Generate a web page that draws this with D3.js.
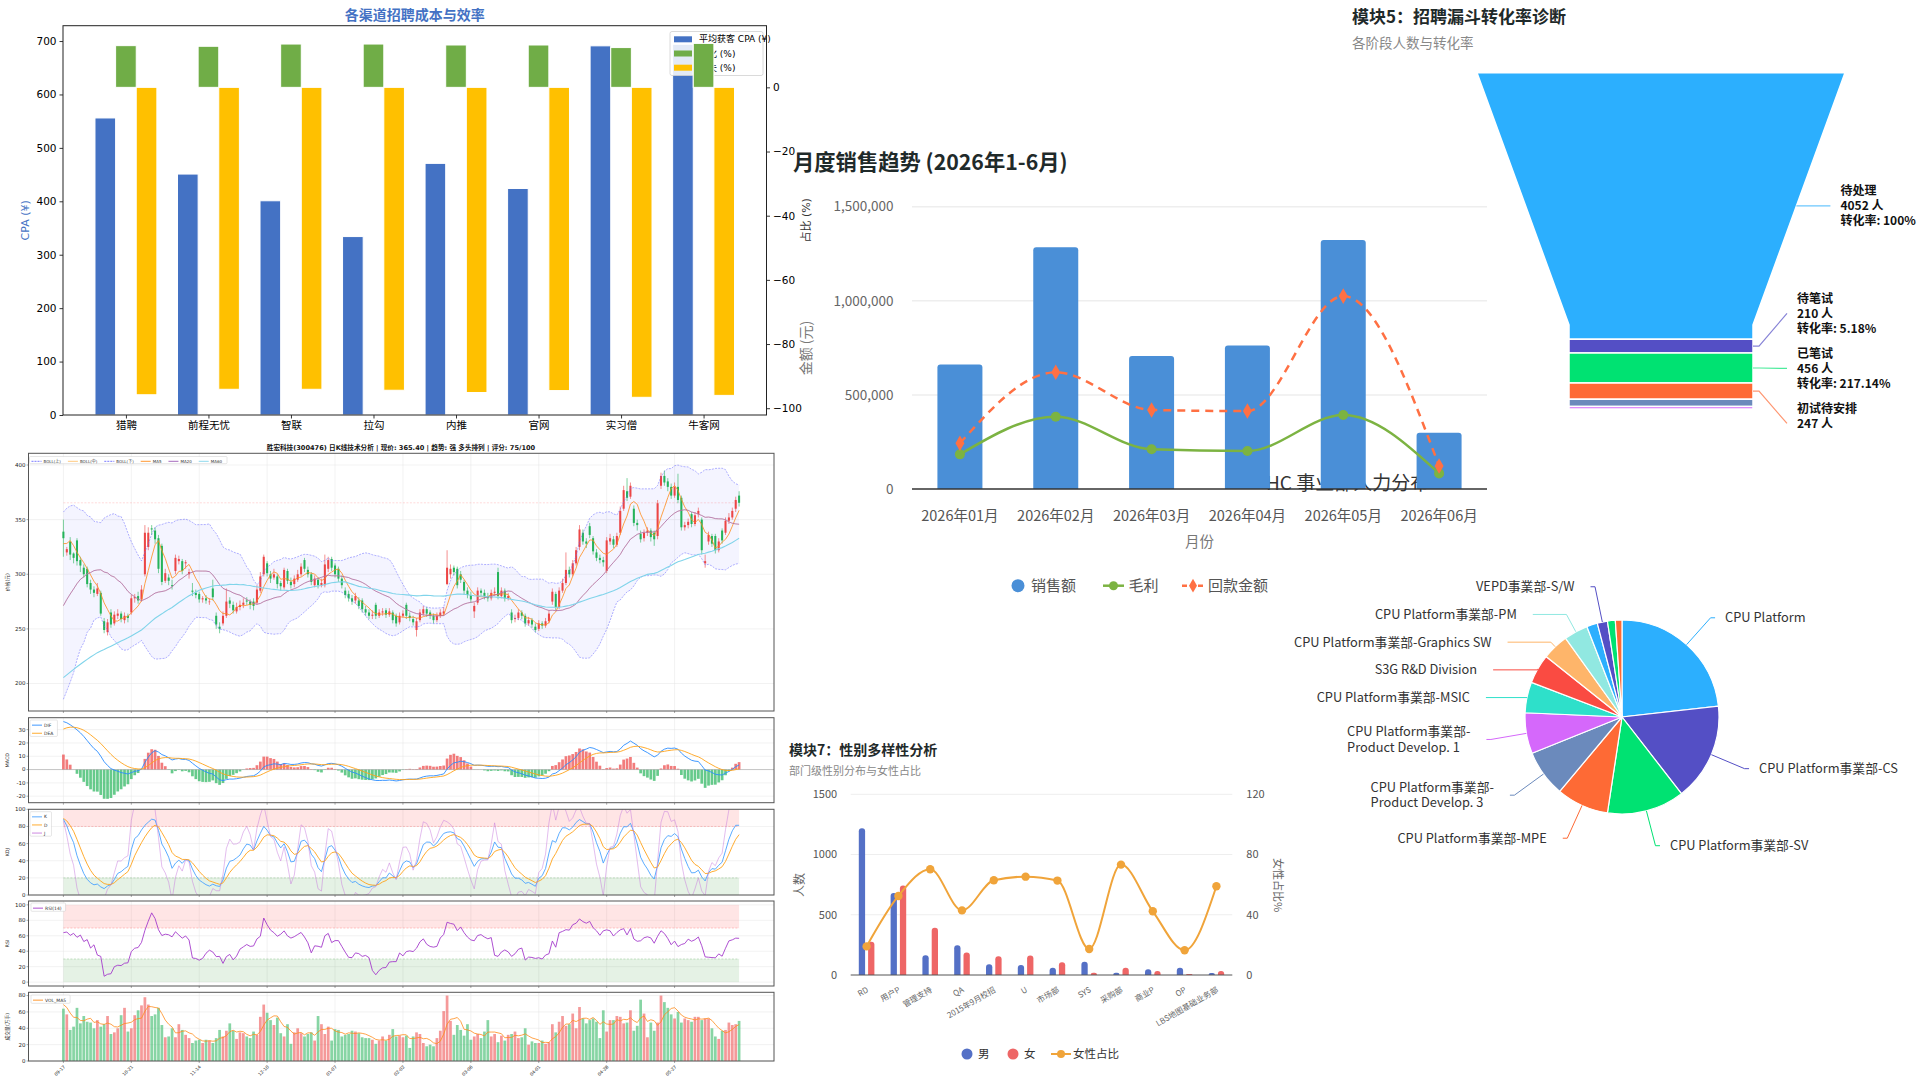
<!DOCTYPE html>
<html>
<head>
    <meta charset="utf-8" />
    <title>招聘与经营数据看板</title>
    <style>
        body { margin: 0; background: #fff; }
        svg { display: block; }
    </style>
</head>
<body>
    <svg id="board" width="1920" height="1080"></svg>
    <script src="https://cdn.jsdelivr.net/npm/d3@7/dist/d3.min.js"></script>
    <script>
        // ---------- channel CPA (matplotlib style, top left) ----------
        var cpaChannels = ["猎聘", "前程无忧", "智联", "拉勾", "内推", "官网", "实习僧", "牛客网"];
        var cpaValues = [556, 451, 401, 334, 471, 424, 691, 694];
        var convRates = [13.0, 12.8, 13.5, 13.5, 13.2, 13.2, 12.4, 13.7];
        var lossRates = [-95.8, -94.1, -94.1, -94.4, -95.1, -94.5, -96.6, -96.0];
        var cpaLegend = ["平均获客 CPA (¥)", "转化 (%)", "流失 (%)"];

        // ---------- K line (300476) ----------
        var kTickDates = ["09-17", "10-21", "11-14", "12-10", "01-07", "02-02", "03-06", "04-01", "04-28", "05-27"];
        var preClose = [170, 166, 163, 168, 172, 165, 160, 158, 162, 166, 170, 168, 164, 167, 171, 169, 165, 168, 172, 175,
            173, 170, 174, 178, 176, 172, 175, 180, 178, 174, 177, 181, 179, 176, 180, 184, 182, 186, 180, 182,
            210, 218, 222, 215, 230, 252, 238, 262, 248, 275, 260, 290, 272, 305, 288, 322, 305, 338, 342];
        var preVol = [75, 72, 68, 66];
        var kOpen = [339, 320, 330, 319, 331, 313, 306, 305, 292, 286, 282, 283, 257, 247, 265, 255, 262, 264, 258, 262,
            265, 278, 280, 277, 300, 325, 342, 340, 333, 326, 294, 297, 290, 303, 312, 312, 310, 300, 285, 283,
            282, 277, 278, 275, 287, 262, 252, 255, 262, 276, 272, 266, 270, 272, 276, 275, 275, 274, 285, 300,
            310, 300, 297, 298, 292, 288, 303, 293, 291, 295, 300, 313, 304, 300, 290, 295, 290, 290, 305, 314,
            308, 305, 296, 285, 282, 278, 276, 276, 276, 268, 265, 262, 272, 262, 265, 267, 263, 265, 262, 256,
            262, 272, 262, 259, 249, 258, 264, 268, 265, 262, 258, 262, 264, 291, 300, 306, 305, 300, 293, 285,
            281, 266, 274, 285, 283, 280, 278, 283, 302, 280, 285, 278, 265, 259, 260, 265, 262, 255, 258, 252,
            250, 255, 253, 257, 275, 282, 270, 285, 292, 304, 300, 310, 325, 338, 330, 344, 333, 320, 315, 313,
            303, 330, 332, 327, 338, 360, 376, 371, 360, 347, 337, 333, 338, 340, 338, 335, 381, 390, 385, 380,
            372, 380, 370, 343, 345, 355, 346, 355, 350, 310, 330, 335, 335, 322, 340, 338, 349, 352, 360, 372];
        var kClose = [333, 323, 318, 315, 312, 308, 300, 291, 286, 283, 287, 264, 249, 256, 254, 263, 264, 259, 262, 260,
            278, 279, 276, 286, 338, 338, 341, 332, 305, 293, 301, 294, 289, 315, 314, 303, 311, 302, 284, 281,
            277, 278, 276, 275, 279, 254, 250, 262, 275, 273, 267, 270, 272, 274, 275, 272, 271, 286, 298, 316,
            301, 296, 300, 291, 289, 304, 294, 290, 296, 300, 307, 305, 300, 293, 296, 290, 292, 309, 313, 306,
            300, 296, 290, 281, 278, 275, 280, 271, 268, 265, 262, 263, 262, 265, 266, 263, 266, 258, 255, 262,
            264, 262, 260, 256, 257, 265, 268, 264, 262, 258, 262, 265, 266, 306, 305, 302, 290, 295, 285, 281,
            277, 271, 285, 283, 280, 278, 283, 284, 280, 285, 278, 280, 258, 260, 265, 262, 255, 258, 254, 249,
            255, 253, 257, 264, 284, 270, 285, 292, 304, 300, 310, 322, 341, 330, 328, 336, 321, 315, 313, 311,
            331, 333, 327, 335, 358, 377, 370, 381, 347, 345, 332, 338, 340, 334, 332, 365, 390, 384, 380, 372,
            380, 368, 343, 345, 348, 346, 354, 358, 322, 312, 336, 328, 322, 330, 331, 349, 352, 358, 368, 365.4];
        var kHigh = [350, 325, 334, 320, 333, 316, 309, 307, 295, 289, 292, 285, 260, 259, 268, 266, 268, 266, 265, 264,
            281, 282, 284, 290, 345, 343, 345, 343, 336, 328, 305, 300, 295, 318, 317, 314, 313, 305, 292, 286,
            284, 280, 281, 278, 295, 265, 256, 266, 287, 279, 275, 274, 276, 278, 279, 277, 278, 290, 302, 318,
            312, 303, 305, 300, 294, 306, 305, 297, 299, 304, 310, 315, 307, 302, 299, 297, 296, 318, 316, 316,
            310, 307, 299, 288, 285, 281, 283, 279, 278, 271, 268, 267, 274, 268, 269, 269, 269, 267, 264, 265,
            267, 274, 265, 262, 260, 268, 271, 270, 267, 264, 265, 268, 270, 322, 309, 308, 307, 303, 295, 288,
            284, 274, 288, 287, 286, 283, 286, 288, 306, 288, 287, 283, 268, 263, 268, 267, 264, 261, 260, 255,
            258, 257, 260, 267, 287, 284, 288, 296, 320, 307, 313, 325, 345, 341, 333, 347, 335, 323, 318, 316,
            334, 337, 335, 338, 362, 381, 388, 384, 363, 350, 340, 341, 343, 342, 340, 368, 393, 395, 388, 383,
            384, 392, 372, 348, 351, 357, 357, 361, 352, 318, 339, 337, 337, 333, 342, 352, 356, 361, 371, 376];
        var kLow = [316, 317, 313, 310, 308, 302, 297, 288, 282, 279, 280, 262, 246, 244, 251, 253, 259, 256, 255, 256,
            263, 274, 273, 275, 298, 322, 336, 328, 301, 290, 292, 290, 286, 300, 309, 300, 305, 296, 280, 278,
            274, 274, 273, 272, 276, 250, 246, 253, 260, 269, 264, 264, 267, 269, 272, 268, 267, 272, 283, 298,
            298, 292, 295, 287, 285, 286, 291, 287, 288, 293, 298, 302, 297, 290, 288, 287, 288, 288, 302, 303,
            297, 293, 287, 278, 275, 272, 273, 268, 265, 262, 259, 259, 259, 260, 262, 260, 261, 255, 252, 254,
            260, 259, 257, 253, 243, 256, 262, 261, 259, 255, 256, 260, 262, 290, 296, 299, 287, 292, 281, 278,
            274, 260, 272, 280, 277, 275, 276, 280, 277, 278, 275, 276, 255, 256, 258, 259, 252, 253, 251, 247,
            248, 250, 251, 255, 272, 267, 268, 283, 290, 297, 298, 308, 322, 327, 324, 333, 318, 312, 310, 307,
            301, 327, 324, 325, 336, 358, 367, 369, 344, 340, 329, 330, 335, 330, 326, 332, 378, 381, 376, 369,
            370, 365, 340, 340, 342, 343, 344, 352, 318, 306, 327, 325, 319, 320, 328, 336, 346, 350, 357, 362];
        var kVol = [64, 57, 38, 42, 65, 46, 55, 48, 47, 40, 50, 42, 45, 55, 33, 35, 40, 56, 65, 36,
            40, 56, 62, 68, 78, 69, 55, 57, 65, 44, 29, 30, 40, 29, 45, 38, 32, 28, 22, 25,
            26, 22, 26, 25, 22, 28, 38, 30, 37, 46, 37, 27, 35, 34, 30, 28, 36, 32, 54, 69,
            59, 50, 44, 53, 34, 30, 45, 21, 35, 40, 34, 30, 33, 35, 25, 55, 45, 33, 42, 25,
            39, 38, 30, 32, 33, 37, 36, 34, 29, 28, 28, 26, 21, 25, 30, 25, 32, 39, 30, 31,
            29, 31, 16, 30, 35, 33, 22, 18, 20, 18, 28, 37, 61, 80, 49, 32, 44, 38, 31, 45,
            26, 30, 33, 28, 36, 50, 30, 33, 23, 31, 25, 32, 33, 36, 28, 29, 40, 20, 24, 22,
            22, 25, 21, 23, 45, 35, 48, 55, 43, 45, 58, 40, 66, 52, 46, 50, 52, 48, 28, 62,
            36, 50, 50, 55, 54, 46, 47, 62, 37, 43, 75, 58, 29, 47, 37, 47, 80, 72, 65, 57,
            52, 60, 47, 52, 50, 48, 54, 54, 50, 52, 52, 40, 30, 27, 37, 38, 47, 44, 45, 49];

        // ---------- monthly sales ----------
        var salesMonths = ["2026年01月", "2026年02月", "2026年03月", "2026年04月", "2026年05月", "2026年06月"];
        var salesAmount = [662000, 1284000, 707000, 763000, 1323000, 299000];
        var grossProfit = [184000, 384000, 211000, 202000, 393000, 83000];
        var paymentAmount = [243000, 620000, 420000, 414000, 1025000, 122000];
        var salesSeries = ["销售额", "毛利", "回款金额"];

        // ---------- recruiting funnel ----------
        var funnelStages = ["待处理", "待笔试", "已笔试", "初试待安排", "初试通过", "复试"];
        var funnelCounts = [4052, 210, 456, 247, 110, 38];

        // ---------- department headcount pie ----------
        var deptNames = ["CPU Platform", "CPU Platform事業部-CS", "CPU Platform事業部-SV", "CPU Platform事業部-MPE",
            "CPU Platform事業部-Product Develop. 3", "CPU Platform事業部-Product Develop. 1", "CPU Platform事業部-MSIC",
            "S3G R&D Division", "CPU Platform事業部-Graphics SW", "CPU Platform事業部-PM", "CPU Platform事業部-Validation",
            "VEPD事業部-S/W", "VEPD事業部-H/W", "S3G Design Service"];
        var deptHeadcount = [232, 163, 129, 87, 78, 68, 51, 49, 44, 40, 18, 17, 13, 11];
        var deptLabelShown = [1, 1, 1, 1, 1, 1, 1, 1, 1, 1, 0, 1, 0, 0];

        // ---------- gender diversity ----------
        var genderDepts = ["RD", "用户P", "管理支持", "QA", "2015年9月校招", "U", "市场部", "SYS", "采购部", "商业P", "OP", "LBS地图基础业务部"];
        var maleCounts = [1219, 681, 164, 247, 89, 83, 61, 111, 19, 47, 61, 17];
        var femaleCounts = [275, 742, 392, 186, 156, 161, 106, 19, 61, 33, 8, 33];
        var femaleRatio = [19.0, 52.5, 70.2, 42.9, 62.9, 65.3, 62.7, 17.3, 73.3, 42.3, 16.4, 58.9];

        var palette = ["#2caffe", "#544fc5", "#00e272", "#fe6a35", "#6b8abc", "#d568fb", "#2ee0ca", "#fa4b42", "#feb56a", "#91e8e1"];
        var MPL = "'DejaVu Sans', 'Noto Sans CJK SC', sans-serif";
        var CN = "'Noto Sans CJK SC', 'Noto Sans', sans-serif";
        var svg = d3.select("#board");

        function styleAxis(sel, size, color) {
            sel.select(".domain").remove();
            sel.attr("font-family", null).attr("font-size", size);
            sel.selectAll("text").attr("fill", color);
            sel.selectAll("line").attr("stroke", color).attr("stroke-width", 0.8);
        }

        function topRounded(x0, y0, w, h, r) {
            r = Math.max(0, Math.min(r, h, w / 2));
            return "M" + x0 + "," + (y0 + h) + "V" + (y0 + r) + "Q" + x0 + "," + y0 + " " + (x0 + r) + "," + y0 +
                "H" + (x0 + w - r) + "Q" + (x0 + w) + "," + y0 + " " + (x0 + w) + "," + (y0 + r) + "V" + (y0 + h) + "Z";
        }

        // ================= top left: channel CPA =================
        function drawCpa() {
            var g = svg.append("g").attr("font-family", MPL);
            var L = 63, R = 766.5, T = 25.7, B = 415, w = 0.25;
            var n = cpaChannels.length;
            var xm = (n - 1 + 3 * w) * 0.05;
            var x = d3.scaleLinear().domain([-1.5 * w - xm, n - 1 + 1.5 * w + xm]).range([L, R]);
            var y = d3.scaleLinear().domain([0, d3.max(cpaValues) * 1.05]).range([B, T]);
            var lo = Math.min(0, d3.min(lossRates)), hi = Math.max(0, d3.max(convRates));
            var y2 = d3.scaleLinear().domain([lo - (hi - lo) * 0.05, hi + (hi - lo) * 0.05]).range([B, T]);
            var bw = x(w) - x(0);

            g.append("g").selectAll("rect").data(cpaValues).join("rect")
                .attr("x", function (d, i) { return x(i - w) - bw / 2; })
                .attr("y", function (d) { return y(d); })
                .attr("width", bw)
                .attr("height", function (d) { return B - y(d); })
                .attr("fill", "#4472c4").attr("stroke", "#fff").attr("stroke-width", 1);

            g.append("g").attr("transform", "translate(" + L + ",0)")
                .call(d3.axisLeft(y).tickValues(d3.range(0, 701, 100)).tickSize(3.5).tickPadding(3))
                .call(styleAxis, 10.5, "#000");
            g.append("g").attr("transform", "translate(0," + B + ")")
                .call(d3.axisBottom(x).tickValues(d3.range(n)).tickFormat(function (i) { return cpaChannels[i]; }).tickSize(3.5).tickPadding(3.5))
                .call(styleAxis, 10.5, "#000");

            // legend of the first axes, the twin axes draws over it
            var lg = g.append("g").attr("transform", "translate(670,31.5)");
            lg.append("rect").attr("width", 93).attr("height", 44).attr("rx", 2)
                .attr("fill", "#fff").attr("fill-opacity", 0.85).attr("stroke", "#d0d0d0").attr("stroke-width", 0.8);
            var legColors = ["#4472c4", "#70ad47", "#ffc000"];
            cpaLegend.forEach(function (t, k) {
                lg.append("rect").attr("x", 4).attr("y", 4.8 + k * 14.2).attr("width", 18).attr("height", 6).attr("fill", legColors[k]);
                lg.append("text").attr("x", 29).attr("y", 7.8 + k * 14.2).attr("dy", "0.35em").attr("font-size", 9).text(t);
            });

            g.append("g").selectAll("rect").data(convRates).join("rect")
                .attr("x", function (d, i) { return x(i) - bw / 2; })
                .attr("y", function (d) { return y2(d); })
                .attr("width", bw)
                .attr("height", function (d) { return y2(0) - y2(d); })
                .attr("fill", "#70ad47").attr("stroke", "#fff").attr("stroke-width", 1);
            g.append("g").selectAll("rect").data(lossRates).join("rect")
                .attr("x", function (d, i) { return x(i + w) - bw / 2; })
                .attr("y", y2(0))
                .attr("width", bw)
                .attr("height", function (d) { return y2(d) - y2(0); })
                .attr("fill", "#ffc000").attr("stroke", "#fff").attr("stroke-width", 1);

            g.append("g").attr("transform", "translate(" + R + ",0)")
                .call(d3.axisRight(y2).tickValues(d3.range(-100, 1, 20)).tickSize(3.5).tickPadding(3))
                .call(styleAxis, 10.5, "#000");

            g.append("rect").attr("x", L).attr("y", T).attr("width", R - L).attr("height", B - T)
                .attr("fill", "none").attr("stroke", "#222").attr("stroke-width", 1);

            g.append("text").attr("x", (L + R) / 2).attr("y", 15).attr("dy", "0.35em").attr("text-anchor", "middle")
                .attr("font-size", 14).attr("font-weight", "bold").attr("fill", "#4472c4").text("各渠道招聘成本与效率");
            g.append("text").attr("transform", "translate(25," + (T + B) / 2 + ") rotate(-90)").attr("text-anchor", "middle")
                .attr("dy", "0.35em").attr("font-size", 11).attr("fill", "#4472c4").text("CPA (¥)");
            g.append("text").attr("transform", "translate(806," + (T + B) / 2 + ") rotate(-90)").attr("text-anchor", "middle")
                .attr("dy", "0.35em").attr("font-size", 11).attr("fill", "#333").text("占比 (%)");
        }

        // ================= bottom left: K line with indicators =================
        function miniLegend(parent, x0, y0, items, horizontal, fs) {
            var lg = parent.append("g").attr("transform", "translate(" + x0 + "," + y0 + ")");
            var box = lg.append("rect").attr("fill", "#fff").attr("fill-opacity", 0.85).attr("stroke", "#ccc").attr("stroke-width", 0.5).attr("rx", 1);
            var cx = 2, cy = 2 + fs * 0.7, maxW = 0;
            items.forEach(function (it) {
                lg.append("line").attr("x1", cx).attr("x2", cx + 10).attr("y1", cy).attr("y2", cy)
                    .attr("stroke", it.color).attr("stroke-width", 0.9).attr("stroke-dasharray", it.dash || null);
                var t = lg.append("text").attr("x", cx + 12).attr("y", cy).attr("dy", "0.35em").attr("font-size", fs).attr("fill", "#333").text(it.label);
                var tw = t.node().getComputedTextLength();
                if (horizontal) { cx += 12 + tw + 7; maxW = cx - 4; }
                else { maxW = Math.max(maxW, 14 + tw + 2); cy += fs * 1.8; }
            });
            box.attr("width", maxW + 2).attr("height", horizontal ? fs * 1.8 : cy - fs * 1.1);
        }

        function drawKline() {
            var N = kClose.length, P = preClose.length;
            var closeAll = preClose.concat(kClose);
            var highAll = preClose.concat(kHigh);
            var lowAll = preClose.concat(kLow);
            var volAll = preVol.concat(kVol);

            function avg(arr, end, n) { return d3.mean(arr.slice(end - n + 1, end + 1)); }
            var ma5 = [], ma20 = [], ma60 = [], bollU = [], bollL = [], volMa = [], rsi = [];
            for (var i = 0; i < N; i++) {
                var j = P + i;
                ma5.push(avg(closeAll, j, 5));
                ma20.push(avg(closeAll, j, 20));
                ma60.push(avg(closeAll, j, 60));
                var sd = d3.deviation(closeAll.slice(j - 19, j + 1));
                bollU.push(ma20[i] + 2 * sd);
                bollL.push(ma20[i] - 2 * sd);
                volMa.push(avg(volAll, preVol.length + i, 5));
                var up = 0, dn = 0;
                for (var t = j - 13; t <= j; t++) {
                    var ch = closeAll[t] - closeAll[t - 1];
                    if (ch > 0) up += ch; else dn -= ch;
                }
                rsi.push(dn === 0 ? 100 : 100 - 100 / (1 + up / dn));
            }
            var e12, e26, deaV, dif = [], dea = [], hist = [];
            var kv = 50, dv = 50, kArr = [], dArr = [], jArr = [];
            closeAll.forEach(function (c, j) {
                e12 = j ? e12 + (c - e12) * 2 / 13 : c;
                e26 = j ? e26 + (c - e26) * 2 / 27 : c;
                var df = e12 - e26;
                deaV = j ? deaV + (df - deaV) * 2 / 10 : df;
                var lo = d3.min(lowAll.slice(Math.max(0, j - 8), j + 1));
                var hi = d3.max(highAll.slice(Math.max(0, j - 8), j + 1));
                var rsv = hi > lo ? (c - lo) / (hi - lo) * 100 : 50;
                kv = kv * 2 / 3 + rsv / 3;
                dv = dv * 2 / 3 + kv / 3;
                if (j >= P) {
                    dif.push(df); dea.push(deaV); hist.push(2 * (df - deaV));
                    kArr.push(kv); dArr.push(dv); jArr.push(3 * kv - 2 * dv);
                }
            });

            var L = 28.5, R = 774;
            var xm = (N - 1 + 0.6) * 0.05;
            var x = d3.scaleLinear().domain([-0.3 - xm, N - 1 + 0.3 + xm]).range([L, R]);
            var xTicks = d3.range(0, N, 20);
            var g = svg.append("g").attr("font-family", MPL);

            function panel(id, top, bottom, domain, ticks, label) {
                var y = d3.scaleLinear().domain(domain).range([bottom, top]);
                var p = g.append("g");
                p.append("clipPath").attr("id", id).append("rect").attr("x", L).attr("y", top).attr("width", R - L).attr("height", bottom - top);
                p.selectAll(".gx").data(xTicks).join("line").attr("x1", x).attr("x2", x).attr("y1", top).attr("y2", bottom)
                    .attr("stroke", "#e4e4e4").attr("stroke-width", 0.5);
                p.selectAll(".gy").data(ticks).join("line").attr("x1", L).attr("x2", R).attr("y1", y).attr("y2", y)
                    .attr("stroke", "#e4e4e4").attr("stroke-width", 0.5);
                var body = p.append("g").attr("clip-path", "url(#" + id + ")");
                var fr = p.append("g");
                fr.append("rect").attr("x", L).attr("y", top).attr("width", R - L).attr("height", bottom - top)
                    .attr("fill", "none").attr("stroke", "#555").attr("stroke-width", 1);
                fr.selectAll(".ty").data(ticks).join("line").attr("x1", L - 2).attr("x2", L).attr("y1", y).attr("y2", y).attr("stroke", "#555").attr("stroke-width", 0.5);
                fr.selectAll(".tx").data(xTicks).join("line").attr("x1", x).attr("x2", x).attr("y1", bottom).attr("y2", bottom + 2).attr("stroke", "#555").attr("stroke-width", 0.5);
                fr.selectAll(".tl").data(ticks).join("text").attr("x", L - 3).attr("y", y).attr("dy", "0.35em")
                    .attr("text-anchor", "end").attr("font-size", 5.5).attr("fill", "#222").text(function (d) { return d; });
                fr.append("text").attr("transform", "translate(7," + (top + bottom) / 2 + ") rotate(-90)").attr("text-anchor", "middle")
                    .attr("dy", "0.35em").attr("font-size", 4.8).attr("fill", "#333").text(label);
                return { y: y, body: body, fr: fr };
            }
            function line(pn, data, color, width, extra) {
                var path = pn.body.append("path").datum(data)
                    .attr("d", d3.line().x(function (d, i) { return x(i); }).y(function (d) { return pn.y(d); }))
                    .attr("fill", "none").attr("stroke", color).attr("stroke-width", width);
                if (extra) extra(path);
                return path;
            }
            function band(pn, a, b, color) {
                pn.body.append("rect").attr("x", x(0)).attr("width", x(N - 1) - x(0))
                    .attr("y", pn.y(b)).attr("height", pn.y(a) - pn.y(b)).attr("fill", color).attr("fill-opacity", 0.1);
            }
            function hline(pn, v, color) {
                pn.body.append("line").attr("x1", x(0)).attr("x2", x(N - 1)).attr("y1", pn.y(v)).attr("y2", pn.y(v))
                    .attr("stroke", color).attr("stroke-opacity", 0.35).attr("stroke-width", 0.6).attr("stroke-dasharray", "2,1.5");
            }
            var RED = "#ec4545", GREEN = "#25b35a";
            var isUp = kClose.map(function (c, i) { return c >= kOpen[i]; });

            g.append("text").attr("x", 401).attr("y", 447.5).attr("dy", "0.35em").attr("text-anchor", "middle")
                .attr("font-size", 6.6).attr("font-weight", "bold").attr("fill", "#111")
                .text("胜宏科技(300476) 日K线技术分析 | 现价: " + kClose[N - 1].toFixed(2) + " | 趋势: 强 多头排列 | 评分: 75/100");

            // main price panel
            var mlo = Math.min(d3.min(kLow), d3.min(bollL)), mhi = Math.max(d3.max(kHigh), d3.max(bollU));
            var mm = (mhi - mlo) * 0.05;
            var main = panel("kMain", 453.3, 711, [mlo - mm, mhi + mm], [200, 250, 300, 350, 400], "价格(元)");
            main.body.append("path").datum(d3.range(N))
                .attr("d", d3.area().x(function (i) { return x(i); }).y0(function (i) { return main.y(bollL[i]); }).y1(function (i) { return main.y(bollU[i]); }))
                .attr("fill", "#6a6aff").attr("fill-opacity", 0.07);
            hline(main, kClose[N - 1], "#ff4d4d");
            var cw = x(0.6) - x(0);
            main.body.selectAll(".wick").data(d3.range(N)).join("line")
                .attr("x1", x).attr("x2", x).attr("y1", function (i) { return main.y(kHigh[i]); }).attr("y2", function (i) { return main.y(kLow[i]); })
                .attr("stroke", function (i) { return isUp[i] ? RED : GREEN; }).attr("stroke-width", 0.6);
            main.body.selectAll(".candle").data(d3.range(N)).join("rect")
                .attr("x", function (i) { return x(i) - cw / 2; }).attr("width", cw)
                .attr("y", function (i) { return main.y(Math.max(kOpen[i], kClose[i])); })
                .attr("height", function (i) { return Math.max(0.6, Math.abs(main.y(kOpen[i]) - main.y(kClose[i]))); })
                .attr("fill", function (i) { return isUp[i] ? RED : GREEN; });
            var dashB = function (p) { p.attr("stroke-dasharray", "2,1.2").attr("stroke-opacity", 0.75); };
            line(main, bollU, "#6a6aff", 0.7, dashB);
            line(main, bollL, "#6a6aff", 0.7, dashB);
            line(main, ma20, "#ffc470", 0.8, function (p) { p.attr("stroke-opacity", 0.6); });
            line(main, ma5, "#ff8c1a", 0.8);
            line(main, ma20, "#9b59b6", 0.9, function (p) { p.attr("stroke-opacity", 0.75); });
            line(main, ma60, "#80d4ea", 1.1);
            miniLegend(g, 29.5, 456.5, [
                { label: "BOLL(上)", color: "#6a6aff", dash: "2,1" }, { label: "BOLL(中)", color: "#ffc470" },
                { label: "BOLL(下)", color: "#6a6aff", dash: "2,1" }, { label: "MA5", color: "#ff8c1a" },
                { label: "MA20", color: "#9b59b6" }, { label: "MA60", color: "#80d4ea" }], true, 4);

            // MACD
            var all = dif.concat(dea, hist), dlo = d3.min(all), dhi = d3.max(all), dm = (dhi - dlo) * 0.05;
            var macd = panel("kMacd", 717.7, 802.7, [dlo - dm, dhi + dm], [-20, -10, 0, 10, 20, 30], "MACD");
            var hw = x(0.8) - x(0);
            macd.body.selectAll(".hist").data(hist).join("rect")
                .attr("x", function (d, i) { return x(i) - hw / 2; }).attr("width", hw)
                .attr("y", function (d) { return macd.y(Math.max(0, d)); })
                .attr("height", function (d) { return Math.abs(macd.y(d) - macd.y(0)); })
                .attr("fill", function (d) { return d >= 0 ? RED : GREEN; }).attr("fill-opacity", 0.7);
            macd.body.append("line").attr("x1", L).attr("x2", R).attr("y1", macd.y(0)).attr("y2", macd.y(0)).attr("stroke", "#999").attr("stroke-width", 0.5);
            line(macd, dif, "#2a8cff", 0.9);
            line(macd, dea, "#ffa31a", 0.9);
            miniLegend(g, 30, 720, [{ label: "DIF", color: "#2a8cff" }, { label: "DEA", color: "#ffa31a" }], false, 4.5);

            // KDJ
            var kdj = panel("kKdj", 809.3, 895, [0, 100], [0, 20, 40, 60, 80, 100], "KDJ");
            band(kdj, 80, 100, "#ff0000");
            band(kdj, 0, 20, "#008000");
            hline(kdj, 80, "#ff0000");
            hline(kdj, 20, "#008000");
            line(kdj, kArr, "#4aa3ff", 0.9);
            line(kdj, dArr, "#ffa31a", 0.9);
            line(kdj, jArr, "#c77dde", 0.6, function (p) { p.attr("stroke-opacity", 0.85); });
            miniLegend(g, 30, 811.7, [{ label: "K", color: "#4aa3ff" }, { label: "D", color: "#ffa31a" }, { label: "J", color: "#c77dde" }], false, 4.5);

            // RSI
            var rsiP = panel("kRsi", 901, 986, [-5, 105], [0, 20, 40, 60, 80, 100], "RSI");
            band(rsiP, 70, 100, "#ff0000");
            band(rsiP, 0, 30, "#008000");
            hline(rsiP, 70, "#ff0000");
            hline(rsiP, 30, "#008000");
            line(rsiP, rsi, "#a53ccc", 0.9);
            miniLegend(g, 31, 903, [{ label: "RSI(14)", color: "#a53ccc" }], false, 4.5);

            // volume
            var vol = panel("kVol", 992.3, 1061, [0, d3.max(kVol) * 1.05], [0, 20, 40, 60, 80], "成交量(万手)");
            vol.body.selectAll(".vb").data(kVol).join("rect")
                .attr("x", function (d, i) { return x(i) - hw / 2; }).attr("width", hw)
                .attr("y", function (d) { return vol.y(d); }).attr("height", function (d) { return vol.y(0) - vol.y(d); })
                .attr("fill", function (d, i) { return isUp[i] ? RED : GREEN; }).attr("fill-opacity", 0.55);
            line(vol, volMa, "#ff8c1a", 0.8);
            miniLegend(g, 31, 995, [{ label: "VOL_MA5", color: "#ff8c1a" }], false, 4.5);

            g.selectAll(".date").data(xTicks).join("text")
                .attr("transform", function (i) { return "translate(" + (x(i) + 1) + ",1066) rotate(-45)"; })
                .attr("text-anchor", "end").attr("dy", "0.35em").attr("font-size", 4.5).attr("fill", "#222")
                .text(function (i, k) { return kTickDates[k]; });
        }

        // ================= gender diversity =================
        function drawGender() {
            var g = svg.append("g").attr("font-family", CN);
            var L = 850.7, R = 1232.3, T = 794.3, B = 975;
            var x = d3.scaleBand().domain(genderDepts).range([L, R]);
            var y = d3.scaleLinear().domain([0, d3.max(maleCounts.concat(femaleCounts))]).nice(3).range([B, T]);
            var ticks = y.ticks(3);
            var y2 = d3.scaleLinear().domain([0, 40 * (ticks.length - 1)]).range([B, T]);
            var ticks2 = d3.range(0, 40 * ticks.length, 40);
            var cxOf = function (d) { return x(d) + x.bandwidth() / 2; };

            g.append("text").attr("x", 789).attr("y", 750).attr("dy", "0.35em").attr("font-size", 14).attr("font-weight", "bold").attr("fill", "#1f2a2a").text("模块7：性别多样性分析");
            g.append("text").attr("x", 789).attr("y", 771.3).attr("dy", "0.35em").attr("font-size", 11).attr("fill", "#888").text("部门级性别分布与女性占比");

            g.selectAll(".grid").data(ticks.slice(1)).join("line").attr("x1", L).attr("x2", R).attr("y1", y).attr("y2", y).attr("stroke", "#eee").attr("stroke-width", 1);
            g.selectAll(".yl").data(ticks).join("text").attr("x", L - 13.5).attr("y", y).attr("dy", "0.35em").attr("text-anchor", "end")
                .attr("font-size", 11).attr("fill", "#555").text(function (d) { return d; });
            g.selectAll(".yr").data(ticks2).join("text").attr("x", R + 14).attr("y", y2).attr("dy", "0.35em")
                .attr("font-size", 11).attr("fill", "#555").text(function (d) { return d; });

            var bw = 6.3;
            g.selectAll(".m").data(maleCounts).join("path")
                .attr("d", function (d, i) { var c = cxOf(genderDepts[i]); return topRounded(c - 4.65 - bw / 2, y(d), bw, B - y(d), 3); })
                .attr("fill", "#5470c6");
            g.selectAll(".f").data(femaleCounts).join("path")
                .attr("d", function (d, i) { var c = cxOf(genderDepts[i]); return topRounded(c + 4.65 - bw / 2, y(d), bw, B - y(d), 3); })
                .attr("fill", "#ee6666");
            g.append("line").attr("x1", L).attr("x2", R).attr("y1", B).attr("y2", B).attr("stroke", "#555").attr("stroke-width", 1);

            g.append("path").datum(femaleRatio)
                .attr("d", d3.line().x(function (d, i) { return cxOf(genderDepts[i]); }).y(function (d) { return y2(d); }).curve(d3.curveMonotoneX))
                .attr("fill", "none").attr("stroke", "#f0a43a").attr("stroke-width", 2);
            g.selectAll(".dot").data(femaleRatio).join("circle")
                .attr("cx", function (d, i) { return cxOf(genderDepts[i]); }).attr("cy", function (d) { return y2(d); })
                .attr("r", 4.2).attr("fill", "#f0a43a");

            g.selectAll(".xl").data(genderDepts).join("text")
                .attr("transform", function (d) { return "translate(" + (cxOf(d) + 1) + ",989) rotate(-30)"; })
                .attr("text-anchor", "end").attr("dy", "0.35em").attr("font-size", 8).attr("fill", "#666").text(function (d) { return d; });

            g.append("text").attr("transform", "translate(800,885) rotate(-90)").attr("text-anchor", "middle").attr("dy", "0.35em")
                .attr("font-size", 12).attr("fill", "#666").text("人数");
            g.append("text").attr("transform", "translate(1278,885) rotate(90)").attr("text-anchor", "middle").attr("dy", "0.35em")
                .attr("font-size", 11).attr("fill", "#666").text("女性占比%");

            var ly = 1054;
            g.append("circle").attr("cx", 967).attr("cy", ly).attr("r", 5.5).attr("fill", "#5470c6");
            g.append("text").attr("x", 978).attr("y", ly).attr("dy", "0.35em").attr("font-size", 11.5).attr("fill", "#333").text("男");
            g.append("circle").attr("cx", 1013).attr("cy", ly).attr("r", 5.5).attr("fill", "#ee6666");
            g.append("text").attr("x", 1024).attr("y", ly).attr("dy", "0.35em").attr("font-size", 11.5).attr("fill", "#333").text("女");
            g.append("line").attr("x1", 1051).attr("x2", 1071).attr("y1", ly).attr("y2", ly).attr("stroke", "#f0a43a").attr("stroke-width", 2);
            g.append("circle").attr("cx", 1061).attr("cy", ly).attr("r", 4).attr("fill", "#f0a43a");
            g.append("text").attr("x", 1073).attr("y", ly).attr("dy", "0.35em").attr("font-size", 11.5).attr("fill", "#333").text("女性占比");
        }

        // ================= department pie =================
        function drawDeptPie() {
            var g = svg.append("g").attr("font-family", CN);
            g.append("text").attr("x", 1266).attr("y", 483).attr("dy", "0.35em").attr("font-size", 19).attr("fill", "#333").text("HC 事业部人力分布");
            var cx = 1622, cy = 717, r = 97, R2 = r + 36, len2 = 4.5, lineH = 15.6;
            var arcs = d3.pie().sort(null).value(function (d) { return d; })(deptHeadcount);
            var arc = d3.arc().innerRadius(0).outerRadius(r);
            g.append("g").attr("transform", "translate(" + cx + "," + cy + ")")
                .selectAll("path").data(arcs).join("path").attr("d", arc)
                .attr("fill", function (d, i) { return palette[i % palette.length]; })
                .attr("stroke", "#fff").attr("stroke-width", 1.2);

            var labels = arcs.map(function (d, i) {
                var a = (d.startAngle + d.endAngle) / 2, name = deptNames[i];
                var cut = name.indexOf("-") + 1;
                var lines = name.length > 30 ? [name.slice(0, cut), name.slice(cut)] : [name];
                return { i: i, a: a, lines: lines, right: Math.sin(a) >= 0, y: cy - R2 * Math.cos(a), h: lines.length * 15 + 12.7 };
            }).filter(function (l) { return deptLabelShown[l.i]; });
            [true, false].forEach(function (side) {
                var grp = labels.filter(function (l) { return l.right === side; }).sort(function (p, q) { return p.y - q.y; });
                for (var k = 1; k < grp.length; k++) grp[k].y = Math.max(grp[k].y, grp[k - 1].y + (grp[k - 1].h + grp[k].h) / 2);
            });
            labels.forEach(function (l) {
                var dx = Math.sin(l.a), dy = -Math.cos(l.a);
                var ex = cx + r * dx, ey = cy + r * dy;
                var t = Math.abs(dy) > 1e-3 ? Math.max(0, (l.y - ey) / dy) : 0;
                var bx = ex + t * dx;
                var off = Math.sqrt(Math.max(0, R2 * R2 - (l.y - cy) * (l.y - cy)));
                var ax = l.right ? cx + off + len2 : cx - off - len2;
                bx = l.right ? Math.min(bx, ax) : Math.max(bx, ax);
                var col = palette[l.i % palette.length];
                g.append("path").attr("d", "M" + ex + "," + ey + "L" + bx + "," + l.y + "L" + ax + "," + l.y)
                    .attr("fill", "none").attr("stroke", col).attr("stroke-width", 1);
                // one text element per line
                var nodes = l.lines.map(function (s, k) {
                    return g.append("text").attr("font-size", 12.8).attr("fill", "#333")
                        .attr("y", l.y + (k - (l.lines.length - 1) / 2) * lineH).attr("dy", "0.35em").text(s);
                });
                var wMax = d3.max(nodes, function (n) { return n.node().getComputedTextLength(); });
                var tx = l.right ? ax + 10 : ax - 16 - wMax;
                nodes.forEach(function (n) { n.attr("x", tx); });
            });
        }

        // ================= recruiting funnel =================
        function drawFunnel() {
            var g = svg.append("g").attr("font-family", CN);
            g.append("clipPath").attr("id", "funnelClip").append("rect").attr("x", 1330).attr("y", 0).attr("width", 590).attr("height", 431);
            var body = g.append("g").attr("clip-path", "url(#funnelClip)");
            body.append("text").attr("x", 1352).attr("y", 17.3).attr("dy", "0.35em").attr("font-size", 17).attr("font-weight", "bold").attr("fill", "#1f2a2a").text("模块5：招聘漏斗转化率诊断");
            body.append("text").attr("x", 1352).attr("y", 43.3).attr("dy", "0.35em").attr("font-size", 13.5).attr("fill", "#888").text("各阶段人数与转化率");

            var top = 72.7, H = 336.3, cx = 1661, W = 368, neckW = 184, neckY = top + H * 0.75;
            var fy = d3.scaleLinear().domain([0, d3.sum(funnelCounts)]).range([top, top + H]);
            function half(yy) { return yy < neckY ? (W - (W - neckW) * (yy - top) / (neckY - top)) / 2 : neckW / 2; }
            var cum = 0;
            var segs = funnelCounts.map(function (v, i) {
                var s = { i: i, v: v, y0: fy(cum), y1: fy(cum + v) };
                cum += v;
                return s;
            });
            segs.forEach(function (s) {
                var ys = [s.y0];
                if (s.y0 < neckY && s.y1 > neckY) ys.push(neckY);
                ys.push(s.y1);
                var pts = ys.map(function (yy) { return [cx - half(yy), yy]; })
                    .concat(ys.slice().reverse().map(function (yy) { return [cx + half(yy), yy]; }));
                body.append("path").attr("d", "M" + pts.join("L") + "Z").attr("fill", palette[s.i])
                    .attr("stroke", "#fff").attr("stroke-width", 1.5);
            });

            var labs = segs.slice(0, 4).map(function (s) { var m = (s.y0 + s.y1) / 2; return { s: s, ny: m, y: m }; });
            for (var it = 0; it < 300; it++) {
                for (var k = 1; k < labs.length; k++) {
                    var d = labs[k].y - labs[k - 1].y;
                    if (d < 55) { var sh = (55 - d) / 2; labs[k - 1].y -= sh; labs[k].y += sh; }
                }
            }
            labs.forEach(function (l) {
                var i = l.s.i, ex = cx + half(l.ny), tx = ex + 44;
                body.append("path").attr("d", "M" + ex + "," + l.ny + "L" + (ex + 6) + "," + l.ny + "L" + (tx - 10) + "," + l.y)
                    .attr("fill", "none").attr("stroke", palette[i]).attr("stroke-opacity", 0.7).attr("stroke-width", 1.2);
                var rate = funnelCounts[i] / funnelCounts[Math.max(0, i - 1)] * 100;
                var lines = [funnelStages[i], funnelCounts[i] + " 人", "转化率: " + (+rate.toFixed(2)) + "%"];
                var txt = body.append("text").attr("font-size", 12).attr("font-weight", "bold").attr("fill", "#111");
                lines.forEach(function (s, k) {
                    txt.append("tspan").attr("x", tx).attr("y", l.y + (k - 1) * 15).attr("dy", "0.35em").text(s);
                });
            });
        }

        // ================= monthly sales (drawn last, transparent) =================
        function drawSales() {
            var g = svg.append("g").attr("font-family", CN);
            var L = 912, R = 1487, T = 206.7, B = 489;
            var x = d3.scaleBand().domain(salesMonths).range([L, R]);
            var y = d3.scaleLinear().domain([0, d3.max(salesAmount)]).nice(3).range([B, T]);
            var ticks = y.ticks(3);
            var cxm = function (d, i) { return x(salesMonths[i]) + x.bandwidth() / 2; };

            g.append("text").attr("x", 793).attr("y", 163).attr("dy", "0.35em").attr("font-size", 21.3).attr("font-weight", "bold").attr("fill", "#1f2a2a").text("月度销售趋势 (2026年1-6月)");
            g.selectAll(".grid").data(ticks.slice(1)).join("line").attr("x1", L).attr("x2", R).attr("y1", y).attr("y2", y).attr("stroke", "#eee").attr("stroke-width", 1.5);
            g.selectAll(".yl").data(ticks).join("text").attr("x", L - 18.5).attr("y", y).attr("dy", "0.35em").attr("text-anchor", "end")
                .attr("font-size", 13.5).attr("fill", "#666").text(d3.format(","));

            var bw = 45;
            g.selectAll(".bar").data(salesAmount).join("path")
                .attr("d", function (d, i) { return topRounded(cxm(d, i) - bw / 2, y(d), bw, B - y(d), 3); })
                .attr("fill", "#4a8fd7");
            g.append("line").attr("x1", L).attr("x2", R).attr("y1", B).attr("y2", B).attr("stroke", "#333").attr("stroke-width", 1.5);
            g.selectAll(".xl").data(salesMonths).join("text").attr("x", function (d, i) { return cxm(d, i); }).attr("y", 516).attr("dy", "0.35em")
                .attr("text-anchor", "middle").attr("font-size", 14.5).attr("fill", "#555").text(function (d) { return d; });

            var smooth = d3.line().x(cxm).y(function (d) { return y(d); }).curve(d3.curveMonotoneX);
            g.append("path").datum(grossProfit).attr("d", smooth).attr("fill", "none").attr("stroke", "#7cb342").attr("stroke-width", 2.5);
            g.selectAll(".gp").data(grossProfit).join("circle").attr("cx", cxm).attr("cy", function (d) { return y(d); }).attr("r", 5).attr("fill", "#7cb342");
            g.append("path").datum(paymentAmount).attr("d", smooth).attr("fill", "none").attr("stroke", "#ff7043").attr("stroke-width", 2.5).attr("stroke-dasharray", "8,6");
            g.selectAll(".pm").data(paymentAmount).join("path")
                .attr("transform", function (d, i) { return "translate(" + cxm(d, i) + "," + y(d) + ")"; })
                .attr("d", d3.symbol(d3.symbolDiamond, 70)).attr("fill", "#ff7043");

            g.append("text").attr("x", (L + R) / 2).attr("y", 541.7).attr("dy", "0.35em").attr("text-anchor", "middle")
                .attr("font-size", 14.5).attr("fill", "#777").text("月份");
            g.append("text").attr("transform", "translate(806,348) rotate(-90)").attr("text-anchor", "middle").attr("dy", "0.35em")
                .attr("font-size", 14).attr("fill", "#777").text("金额 (元)");

            var ly = 585.7;
            g.append("circle").attr("cx", 1018).attr("cy", ly).attr("r", 6.5).attr("fill", "#4a8fd7");
            g.append("text").attr("x", 1031).attr("y", ly).attr("dy", "0.35em").attr("font-size", 15).attr("fill", "#555").text(salesSeries[0]);
            g.append("line").attr("x1", 1103).attr("x2", 1124).attr("y1", ly).attr("y2", ly).attr("stroke", "#7cb342").attr("stroke-width", 2.5);
            g.append("circle").attr("cx", 1113.5).attr("cy", ly).attr("r", 4.5).attr("fill", "#7cb342");
            g.append("text").attr("x", 1128.5).attr("y", ly).attr("dy", "0.35em").attr("font-size", 15).attr("fill", "#555").text(salesSeries[1]);
            g.append("line").attr("x1", 1182).attr("x2", 1204).attr("y1", ly).attr("y2", ly).attr("stroke", "#ff7043").attr("stroke-width", 2.5).attr("stroke-dasharray", "5,3");
            g.append("path").attr("transform", "translate(1193," + ly + ")").attr("d", d3.symbol(d3.symbolDiamond, 55)).attr("fill", "#ff7043");
            g.append("text").attr("x", 1208).attr("y", ly).attr("dy", "0.35em").attr("font-size", 15).attr("fill", "#555").text(salesSeries[2]);
        }

        drawCpa();
        drawKline();
        drawGender();
        drawDeptPie();
        drawFunnel();
        drawSales();
    </script>
</body>
</html>
